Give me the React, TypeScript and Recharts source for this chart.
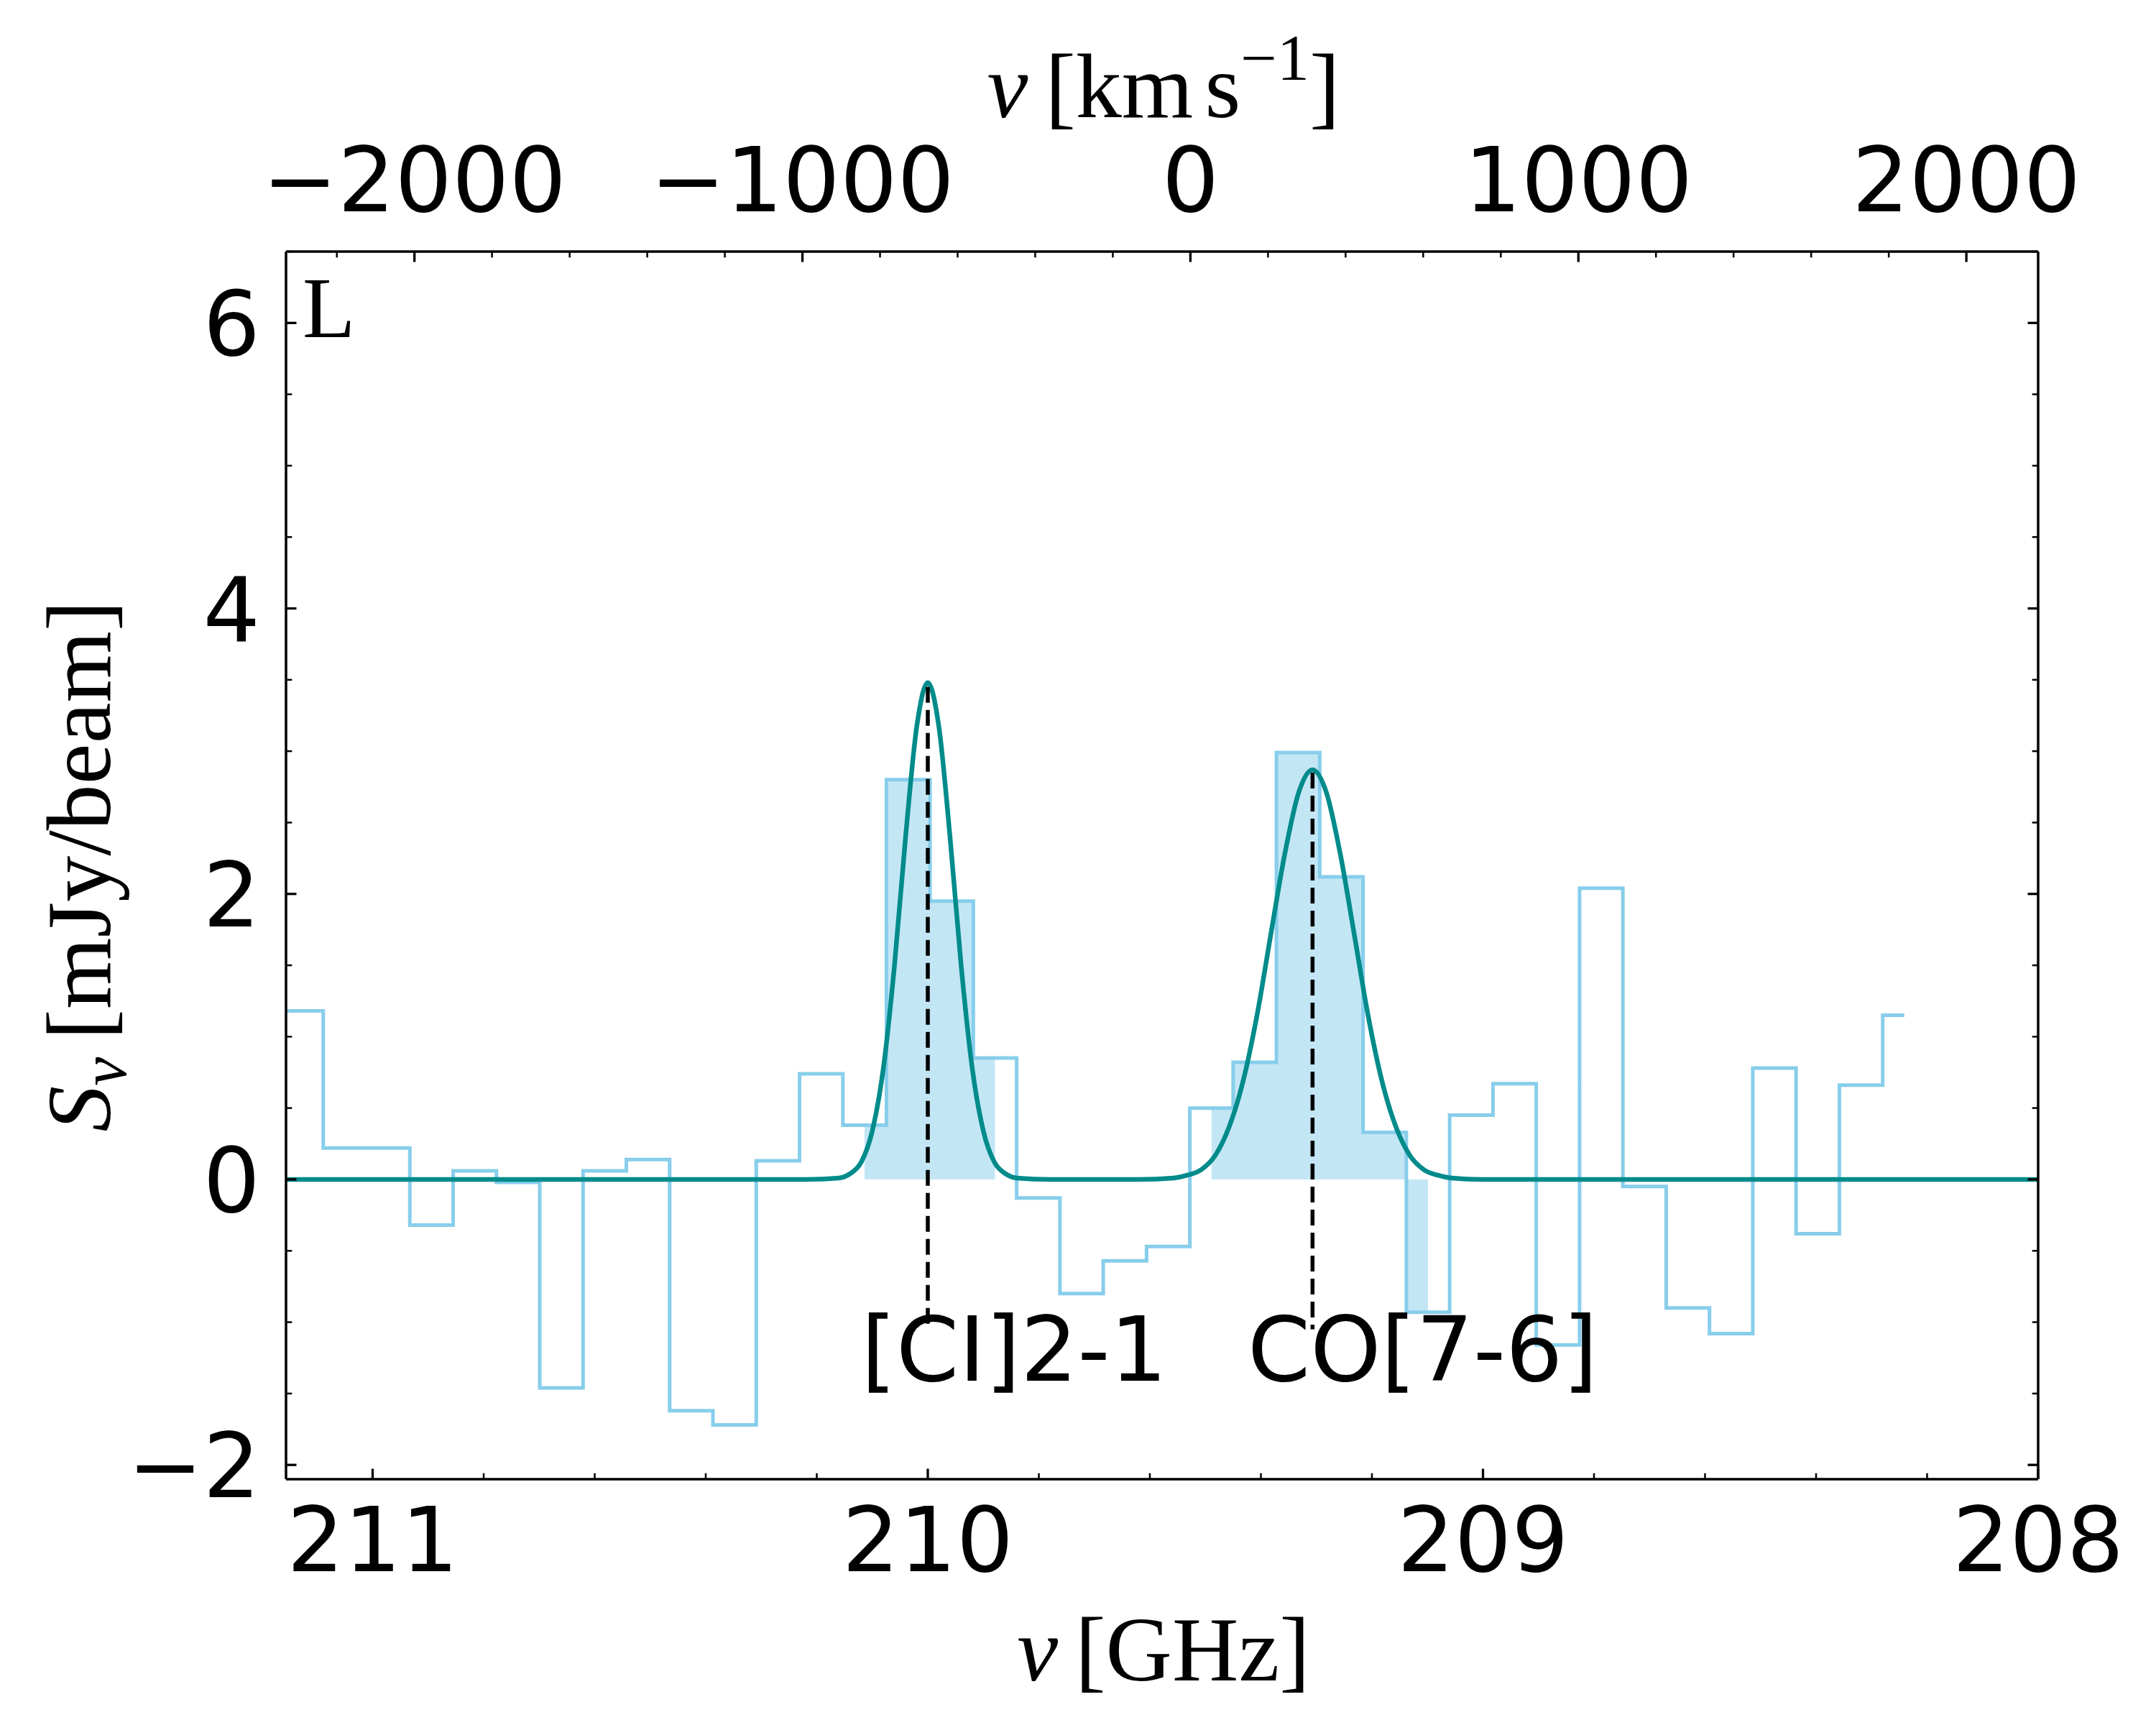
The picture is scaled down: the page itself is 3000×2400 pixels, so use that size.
import React from 'react';
import { ComposedChart, Line, Area, XAxis, YAxis, ReferenceLine, ReferenceDot } from 'recharts';

// channel centres (GHz) and flux density (mJy/beam)
const binFreq = [
  211.206, 211.128, 211.05, 210.972, 210.894, 210.816, 210.738, 210.66, 210.582, 210.504,
  210.426, 210.348, 210.27, 210.192, 210.114, 210.035, 209.957, 209.879, 209.801, 209.723,
  209.645, 209.567, 209.489, 209.411, 209.333, 209.255, 209.177, 209.099, 209.021, 208.943,
  208.865, 208.787, 208.709, 208.631, 208.553, 208.475, 208.397, 208.319, 208.241,
];
const binFlux = [
  1.18, 1.18, 0.22, 0.22, -0.32, 0.06, -0.02, -1.46, 0.06, 0.14,
  -1.62, -1.72, 0.13, 0.74, 0.38, 2.8, 1.95, 0.85, -0.13, -0.8,
  -0.57, -0.47, 0.5, 0.82, 2.99, 2.12, 0.33, -0.93, 0.45, 0.67,
  -1.16, 2.04, -0.05, -0.9, -1.08, 0.78, -0.38, 0.66, 1.15,
];

// fitted line model, sampled off the teal curve
const modelFreq = [
  211.16, 210.22, 210.16, 210.14, 210.12, 210.1, 210.08, 210.06, 210.04, 210.02, 210.0,
  209.98, 209.96, 209.94, 209.92, 209.9, 209.88, 209.86, 209.84, 209.78, 209.62,
  209.557, 209.532, 209.507, 209.482, 209.457, 209.432, 209.407, 209.382, 209.357, 209.332,
  209.307, 209.282, 209.257, 209.232, 209.207, 209.182, 209.157, 209.132, 209.107, 209.082,
  209.057, 209.0, 208.0,
];
const modelFlux = [
  0, 0, 0.01, 0.04, 0.12, 0.34, 0.78, 1.5, 2.4, 3.17, 3.48,
  3.17, 2.4, 1.5, 0.78, 0.34, 0.12, 0.04, 0.01, 0, 0,
  0.01, 0.03, 0.07, 0.17, 0.37, 0.69, 1.15, 1.72, 2.28, 2.71,
  2.87, 2.71, 2.28, 1.72, 1.15, 0.69, 0.37, 0.17, 0.07, 0.03,
  0.01, 0, 0,
];

// channels shaded under each line
const ciWindow = [209.87, 210.12];
const coWindow = [209.09, 209.5];

// line identifications
const lineNames = ['[CI]2-1', 'CO[7-6]'];
const lineFreqs = [210.0, 209.307];
const linePeaks = [3.45, 2.85];
const lineLabelFreqs = [210.12, 209.424];
const lineStop = -1.05;
const labelLevel = -1.41;

const freqDomain = [208, 211.156];
const velDomain = [-2331, 2185];
const fluxDomain = [-2.1, 6.5];

const freqTicks = [208, 208.2, 208.4, 208.6, 208.8, 209, 209.2, 209.4, 209.6, 209.8, 210, 210.2, 210.4, 210.6, 210.8, 211];
const velTicks = [
  -2200, -2000, -1800, -1600, -1400, -1200, -1000, -800, -600, -400, -200,
  0, 200, 400, 600, 800, 1000, 1200, 1400, 1600, 1800, 2000,
];
const fluxTicks = [-2, -1.5, -1, -0.5, 0, 0.5, 1, 1.5, 2, 2.5, 3, 3.5, 4, 4.5, 5, 5.5, 6, 6.5];

const spectrum = binFreq.map((nu, i) => ({ nu, flux: binFlux[i] }));
const inWin = (nu: number, w: number[]) => nu >= w[0] && nu <= w[1];
const ciFill = spectrum.filter((d) => inWin(d.nu, ciWindow));
const coFill = spectrum.filter((d) => inWin(d.nu, coWindow));
const model = modelFreq.map((nu, i) => ({ nu, model: modelFlux[i] }));
// invisible anchor so the velocity axis gets a scale
const velAnchor = velDomain.map((v) => ({ v, s: 0 }));

const W = 3000;
const H = 2400;
const PLOT = { left: 398, top: 350, right: 2836, bottom: 2058 };
const AX = 100;
const margin = {
  left: PLOT.left - AX,
  top: PLOT.top - AX,
  right: W - PLOT.right - AX,
  bottom: H - PLOT.bottom - AX,
};

const HIST = '#87ceeb';
const MODEL = '#008b8b';
const FRAME = 3.5;
const MAJ = 14.5;
const MIN = 8.3;
const sansFont = '"DejaVu Sans", sans-serif';
const serifFont = '"Liberation Serif", "DejaVu Serif", serif';

const fmt = (v: number) => (v < 0 ? '\u2212' + Math.abs(v) : String(v));
const isMult = (v: number, step: number) => Math.abs(v / step - Math.round(v / step)) < 1e-6;

function FluxTick(props: any) {
  const { x, y, payload } = props;
  const v = payload.value;
  const major = isMult(v, 2);
  const len = major ? MAJ : MIN;
  const sw = major ? 3.3 : 2.5;
  const w = PLOT.right - PLOT.left;
  return (
    <g>
      <line x1={x} x2={x + len} y1={y} y2={y} stroke="#000" strokeWidth={sw} />
      <line x1={x + w} x2={x + w - len} y1={y} y2={y} stroke="#000" strokeWidth={sw} />
      {major && (
        <text x={x - 36} y={y + 45} textAnchor="end" fontFamily={sansFont} fontSize={125} fill="#000">
          {fmt(v)}
        </text>
      )}
    </g>
  );
}

function FreqTick(props: any) {
  const { x, y, payload } = props;
  const v = payload.value;
  const major = isMult(v, 1);
  return (
    <g>
      <line x1={x} x2={x} y1={y} y2={y - (major ? MAJ : MIN)} stroke="#000" strokeWidth={major ? 3.3 : 2.5} />
      {major && (
        <text x={x} y={y + 128} textAnchor="middle" fontFamily={sansFont} fontSize={125} fill="#000">
          {fmt(Math.round(v))}
        </text>
      )}
    </g>
  );
}

function VelTick(props: any) {
  const { x, y, payload } = props;
  const v = payload.value;
  const major = isMult(v, 1000);
  return (
    <g>
      <line x1={x} x2={x} y1={y} y2={y + (major ? MAJ : MIN)} stroke="#000" strokeWidth={major ? 3.3 : 2.5} />
      {major && (
        <text x={x} y={y - 56} textAnchor="middle" fontFamily={sansFont} fontSize={125} fill="#000">
          {fmt(v)}
        </text>
      )}
    </g>
  );
}

export default function App() {
  return (
    <div style={{ position: 'absolute', left: 0, top: 0, width: W, height: H, background: '#fff' }}>
      <ComposedChart width={W} height={H} margin={margin}>
        <XAxis
          xAxisId="nu"
          type="number"
          dataKey="nu"
          domain={freqDomain}
          allowDataOverflow
          reversed
          ticks={freqTicks}
          interval={0}
          height={AX}
          tickSize={0}
          tickMargin={0}
          tickLine={false}
          tick={<FreqTick />}
          axisLine={{ stroke: '#000', strokeWidth: FRAME }}
        />
        <XAxis
          xAxisId="v"
          orientation="top"
          type="number"
          dataKey="v"
          domain={velDomain}
          allowDataOverflow
          ticks={velTicks}
          interval={0}
          height={AX}
          tickSize={0}
          tickMargin={0}
          tickLine={false}
          tick={<VelTick />}
          axisLine={{ stroke: '#000', strokeWidth: FRAME }}
        />
        <YAxis
          yAxisId="s"
          type="number"
          domain={fluxDomain}
          allowDataOverflow
          ticks={fluxTicks}
          interval={0}
          width={AX}
          tickSize={0}
          tickMargin={0}
          tickLine={false}
          tick={<FluxTick />}
          axisLine={{ stroke: '#000', strokeWidth: FRAME }}
        />
        <YAxis yAxisId="r" orientation="right" width={AX} tick={false} axisLine={false} />

        <Line
          xAxisId="v"
          yAxisId="s"
          data={velAnchor}
          dataKey="s"
          stroke="transparent"
          strokeWidth={0}
          dot={false}
          activeDot={false}
          isAnimationActive={false}
        />
        <Area
          xAxisId="nu"
          yAxisId="s"
          data={ciFill}
          dataKey="flux"
          type="step"
          baseValue={0}
          stroke="none"
          fill={HIST}
          fillOpacity={0.5}
          isAnimationActive={false}
        />
        <Area
          xAxisId="nu"
          yAxisId="s"
          data={coFill}
          dataKey="flux"
          type="step"
          baseValue={0}
          stroke="none"
          fill={HIST}
          fillOpacity={0.5}
          isAnimationActive={false}
        />
        <Line
          xAxisId="nu"
          yAxisId="s"
          data={spectrum}
          dataKey="flux"
          type="step"
          stroke={HIST}
          strokeWidth={5}
          dot={false}
          activeDot={false}
          isAnimationActive={false}
        />
        <Line
          xAxisId="nu"
          yAxisId="s"
          data={model}
          dataKey="model"
          type="monotone"
          stroke={MODEL}
          strokeWidth={6.5}
          dot={false}
          activeDot={false}
          isAnimationActive={false}
        />

        {lineFreqs.map((f, i) => (
          <ReferenceLine
            key={'l' + i}
            xAxisId="nu"
            yAxisId="s"
            segment={[
              { x: f, y: linePeaks[i] },
              { x: f, y: lineStop },
            ]}
            stroke="#000"
            strokeWidth={5.5}
            strokeDasharray="22 10"
          />
        ))}
        {lineNames.map((name, i) => (
          <ReferenceDot
            key={'t' + i}
            xAxisId="nu"
            yAxisId="s"
            x={lineLabelFreqs[i]}
            y={labelLevel}
            r={0}
            shape={(p: any) => (
              <text x={p.cx} y={p.cy} fontFamily={sansFont} fontSize={125} fill="#000">
                {name}
              </text>
            )}
          />
        ))}
        <ReferenceLine xAxisId="nu" yAxisId="s" x={freqDomain[0]} stroke="#000" strokeWidth={FRAME} />
      </ComposedChart>

      <svg width={W} height={H} style={{ position: 'absolute', left: 0, top: 0, pointerEvents: 'none' }}>
        <text x={421} y={469} fontFamily={serifFont} fontSize={120} fill="#000">
          L
        </text>
        <text x={1619} y={2338} textAnchor="middle" fontFamily={serifFont} fontSize={128} fill="#000">
          <tspan fontStyle="italic">ν</tspan>
          <tspan dx={24}>[GHz]</tspan>
        </text>
        <text x={1619} y={163} textAnchor="middle" fontFamily={serifFont} fontSize={128} fill="#000">
          <tspan fontStyle="italic">v</tspan>
          <tspan dx={24}>[km</tspan>
          <tspan dx={16}>s</tspan>
          <tspan fontSize={90} dy={-52}>{'\u22121'}</tspan>
          <tspan dy={52}>]</tspan>
        </text>
        <text
          transform="translate(153,1205) rotate(-90)"
          textAnchor="middle"
          fontFamily={serifFont}
          fontSize={128}
          fill="#000"
        >
          <tspan fontStyle="italic">S</tspan>
          <tspan fontStyle="italic" fontSize={90} dy={22}>
            ν
          </tspan>
          <tspan dx={24} dy={-22}>
            [mJy/beam]
          </tspan>
        </text>
      </svg>
    </div>
  );
}
